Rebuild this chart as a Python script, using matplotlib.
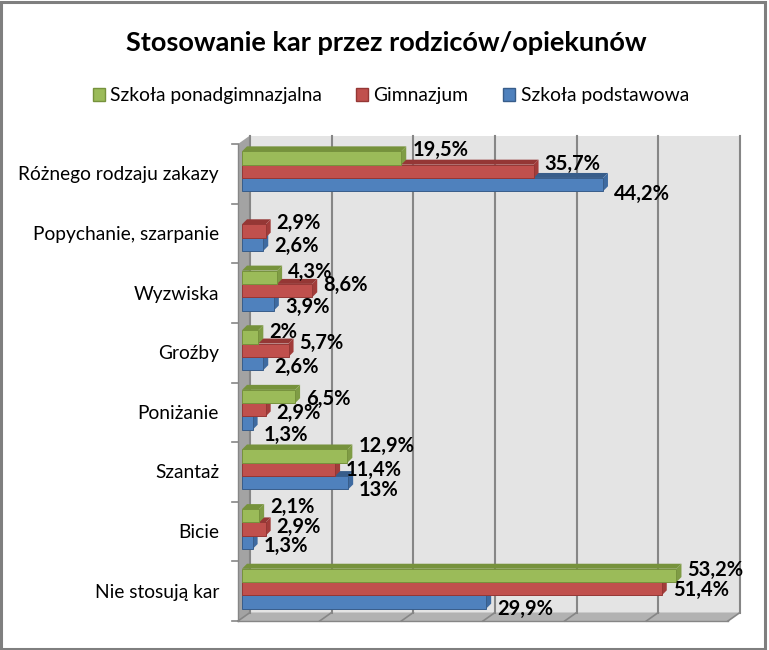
import matplotlib
matplotlib.use("Agg")
import matplotlib.pyplot as plt
from matplotlib.patches import Polygon, Rectangle

categories = ["Różnego rodzaju zakazy", "Popychanie, szarpanie", "Wyzwiska", "Groźby",
              "Poniżanie", "Szantaż", "Bicie", "Nie stosują kar"]
series_names = ["Szkoła ponadgimnazjalna", "Gimnazjum", "Szkoła podstawowa"]
ponadgimnazjalna = [19.5, None, 4.3, 2, 6.5, 12.9, 2.1, 53.2]
gimnazjum = [35.7, 2.9, 8.6, 5.7, 2.9, 11.4, 2.9, 51.4]
podstawowa = [44.2, 2.6, 3.9, 2.6, 1.3, 13, 1.3, 29.9]
x_ticks = [0, 10, 20, 30, 40, 50, 60]

# label vertical nudges in pixels (layout only)
label_dy = [
    [-9, 0, -6, -6, 1, -11, -10, -6],
    [-8, -9, -7, -8, 2, 0, -3, 0],
    [8, 1, 2, 2, 11, 6, 3, 6],
]
face = ["#9BBB59", "#C0504D", "#4F81BD"]
dark = ["#76923C", "#953735", "#385D8A"]
side = ["#7F9C45", "#A23C3A", "#3E6AA0"]

W, H = 769, 650
FONT = "Lato"
fig = plt.figure(figsize=(W / 100, H / 100), dpi=100, facecolor="white")
L, R, T, B = 238, 728, 144, 621
ax = fig.add_axes([L / W, 1 - B / H, (R - L) / W, (B - T) / H])
ax.set_xlim(0, 60)
ax.set_ylim(8, 0)
ax.axis("off")
px = 60 / (R - L)
py = 8 / (B - T)


def poly(pts, color, z, ec="none"):
    ax.add_patch(Polygon(pts, closed=True, fc=color, ec=ec, lw=0.6, zorder=z, clip_on=False))


# 3D box walls
DX, DY = 12 * px, 8.5 * py
poly([(DX, -DY), (60 + DX, -DY), (60 + DX, 8 - DY), (DX, 8 - DY)], "#E4E4E4", 1)
poly([(0, 0), (DX, -DY), (DX, 8 - DY), (0, 8)], "#A3A3A3", 1)
poly([(0, 8), (DX, 8 - DY), (60 + DX, 8 - DY), (60, 8)], "#B2B2B2", 1)
for t in x_ticks:
    ax.plot([t + DX, t + DX], [-DY, 8 - DY], color="#868686", lw=1.5, zorder=2, clip_on=False)
    ax.plot([t, t + DX], [8, 8 - DY], color="#868686", lw=1.2, zorder=2, clip_on=False)
for i in range(9):
    ax.plot([-6 * px, 0], [i, i], color="#868686", lw=1.2, zorder=2, clip_on=False)
ax.plot([0, 0], [0, 8], color="#868686", lw=1.0, zorder=2, clip_on=False)
ax.plot([0, 60], [8, 8], color="#868686", lw=1.0, zorder=2, clip_on=False)

# Bars
x0 = 4 * px
bh = 13.3 * py
dbx, dby = 5 * px, 5 * py
offs = [-bh, 0, bh]
data = [ponadgimnazjalna, gimnazjum, podstawowa]
for i, name in enumerate(categories):
    yc = i + 0.5 - 2.5 * py
    for s in (2, 1, 0):
        v = data[s][i]
        if v is None:
            continue
        y = yc + offs[s]
        ytop, ybot = y - bh / 2, y + bh / 2
        z = 5 + i * 4 + (3 - s)
        xe = x0 + v
        poly([(x0, ytop), (x0 + dbx, ytop - dby), (xe + dbx, ytop - dby), (xe, ytop)], dark[s], z)
        poly([(xe, ytop), (xe + dbx, ytop - dby), (xe + dbx, ybot - dby), (xe, ybot)], side[s], z)
        ax.barh(y, v, left=x0, height=bh, color=face[s], edgecolor=dark[s], linewidth=0.7, zorder=z + 0.5)
        lab = f"{v:g}".replace(".", ",") + "%"
        ax.text(xe + 11 * px, y + (label_dy[s][i] + 1) * py, lab, ha="left", va="center",
                fontsize=14.5, fontweight="bold", family=FONT, color="black", zorder=60, clip_on=False)
    ax.text(-19 * px, i + 0.5 + 1 * py, name, ha="right", va="center", fontsize=13.8,
            family=FONT, color="black", zorder=60, clip_on=False)

# Title
fig.text(386 / W, 1 - 43 / H, "Stosowanie kar przez rodziców/opiekunów", ha="center", va="center",
         fontsize=19.5, fontweight="bold", family=FONT, color="black")

# Legend
leg_sq = [93, 356, 503]
leg_tx = [110, 373, 521]
for s, nm in enumerate(series_names):
    fig.add_artist(Rectangle((leg_sq[s] / W, 1 - 101 / H), 12 / W, 13 / H, transform=fig.transFigure,
                             fc=face[s], ec=dark[s], lw=1))
    fig.text(leg_tx[s] / W, 1 - 96 / H, nm, ha="left", va="center", fontsize=13.9, family=FONT, color="black")

# Outer frame
fig.add_artist(Rectangle((1 / W, 1 / H), (W - 5) / W, (H - 3) / H, transform=fig.transFigure,
                         fc="none", ec="#7F7F7F", lw=2.2))

fig.savefig("out.png", dpi=100, facecolor="white")
